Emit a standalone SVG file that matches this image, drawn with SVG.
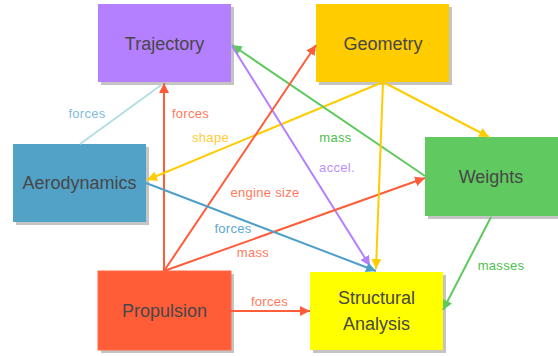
<svg xmlns="http://www.w3.org/2000/svg" width="558" height="356" viewBox="0 0 558 356">
<defs>
<style>
.sh{fill:#c4c4c4}
.nt{font-family:"Liberation Sans",Arial,sans-serif;font-size:18px;fill:#474747;text-anchor:middle}
.lb{font-family:"Liberation Sans",Arial,sans-serif;font-size:13px;text-anchor:middle;letter-spacing:0.3px}
.ln{fill:none;stroke-width:2}
</style>
<marker id="mr" viewBox="0 0 10 10" refX="10" refY="5" markerWidth="5" markerHeight="5" orient="auto" markerUnits="strokeWidth"><path d="M0,0L10,5L0,10z" fill="#ff5c3a"/></marker>
<marker id="my" viewBox="0 0 10 10" refX="10" refY="5" markerWidth="5" markerHeight="5" orient="auto" markerUnits="strokeWidth"><path d="M0,0L10,5L0,10z" fill="#ffcc00"/></marker>
<marker id="mg" viewBox="0 0 10 10" refX="10" refY="5" markerWidth="5" markerHeight="5" orient="auto" markerUnits="strokeWidth"><path d="M0,0L10,5L0,10z" fill="#5ec95e"/></marker>
<marker id="mp" viewBox="0 0 10 10" refX="10" refY="5" markerWidth="5" markerHeight="5" orient="auto" markerUnits="strokeWidth"><path d="M0,0L10,5L0,10z" fill="#b580ff"/></marker>
<marker id="mb" viewBox="0 0 10 10" refX="10" refY="5" markerWidth="5" markerHeight="5" orient="auto" markerUnits="strokeWidth"><path d="M0,0L10,5L0,10z" fill="#4fa0c8"/></marker>
</defs>
<rect width="558" height="356" fill="#ffffff"/>
<g id="n-trajectory">
<rect class="sh" x="101" y="7" width="133" height="78"/>
<rect x="98" y="4" width="133" height="78" fill="#b580ff"/>
<text class="nt" x="164.5" y="50">Trajectory</text>
</g>
<g id="n-geometry">
<rect class="sh" x="319" y="7" width="133" height="78"/>
<rect x="316" y="4" width="133" height="78" fill="#ffcc00"/>
<text class="nt" x="383" y="49.5">Geometry</text>
</g>
<g id="n-aerodynamics">
<rect class="sh" x="16" y="147" width="133" height="78"/>
<rect x="13" y="144" width="133" height="78" fill="#52a2c8"/>
<text class="nt" x="79.5" y="189">Aerodynamics</text>
</g>
<g id="n-weights">
<rect class="sh" x="428" y="140" width="133" height="79"/>
<rect x="425" y="137" width="133" height="79" fill="#60ca60"/>
<text class="nt" x="491" y="183">Weights</text>
</g>
<g id="n-propulsion">
<rect class="sh" x="101" y="274" width="133" height="79"/>
<rect x="98" y="271" width="133" height="79" fill="#ff5c38" stroke="#ff6a48" stroke-width="1"/>
<text class="nt" x="164.5" y="317">Propulsion</text>
</g>
<g id="n-structural">
<rect class="sh" x="313" y="275" width="133" height="78"/>
<rect x="310" y="272" width="133" height="78" fill="#ffff00"/>
<text class="nt" x="376.5" y="304">Structural</text>
<text class="nt" x="376.5" y="329.5">Analysis</text>
</g>
<g id="connectors">
<line class="ln" x1="80" y1="144" x2="164" y2="83" stroke="#b3dfe4"/>
<line class="ln" x1="164" y1="271" x2="164" y2="83" stroke="#ff5c3a" marker-end="url(#mr)"/>
<line class="ln" x1="383" y1="82" x2="147" y2="180" stroke="#ffcc00" marker-end="url(#my)"/>
<line class="ln" x1="425" y1="176" x2="232" y2="45" stroke="#5ec95e" marker-end="url(#mg)"/>
<line class="ln" x1="232" y1="46" x2="370" y2="266" stroke="#b580ff" marker-end="url(#mp)"/>
<line class="ln" x1="164" y1="271" x2="316" y2="45" stroke="#ff5c3a" marker-end="url(#mr)"/>
<line class="ln" x1="164" y1="271" x2="425" y2="178" stroke="#ff5c3a" marker-end="url(#mr)"/>
<line class="ln" x1="146" y1="183" x2="376" y2="271" stroke="#4fa0c8" marker-end="url(#mb)"/>
<line class="ln" x1="383" y1="82" x2="376" y2="269" stroke="#ffcc00" marker-end="url(#my)"/>
<line class="ln" x1="383" y1="82" x2="489" y2="137" stroke="#ffcc00" marker-end="url(#my)"/>
<line class="ln" x1="231" y1="311" x2="310" y2="311" stroke="#ff5c3a" marker-end="url(#mr)"/>
<line class="ln" x1="491" y1="217" x2="443" y2="310" stroke="#5ec95e" marker-end="url(#mg)"/>
<text class="lb" x="87" y="118" fill="#7fbcdc">forces</text>
<text class="lb" x="190.5" y="118" fill="#ff7a5c">forces</text>
<text class="lb" x="210.5" y="142" fill="#ffcc33">shape</text>
<text class="lb" x="335.5" y="141.5" fill="#4cbf4c">mass</text>
<text class="lb" x="337" y="172" fill="#bb90ff">accel.</text>
<text class="lb" x="265" y="197" fill="#ff7a5c">engine size</text>
<text class="lb" x="233" y="233" fill="#5aa8d2">forces</text>
<text class="lb" x="253" y="257" fill="#ff7a5c">mass</text>
<text class="lb" x="269.5" y="305.5" fill="#ff7a5c">forces</text>
<text class="lb" x="501" y="270" fill="#4cbf4c">masses</text>
</g>
</svg>
